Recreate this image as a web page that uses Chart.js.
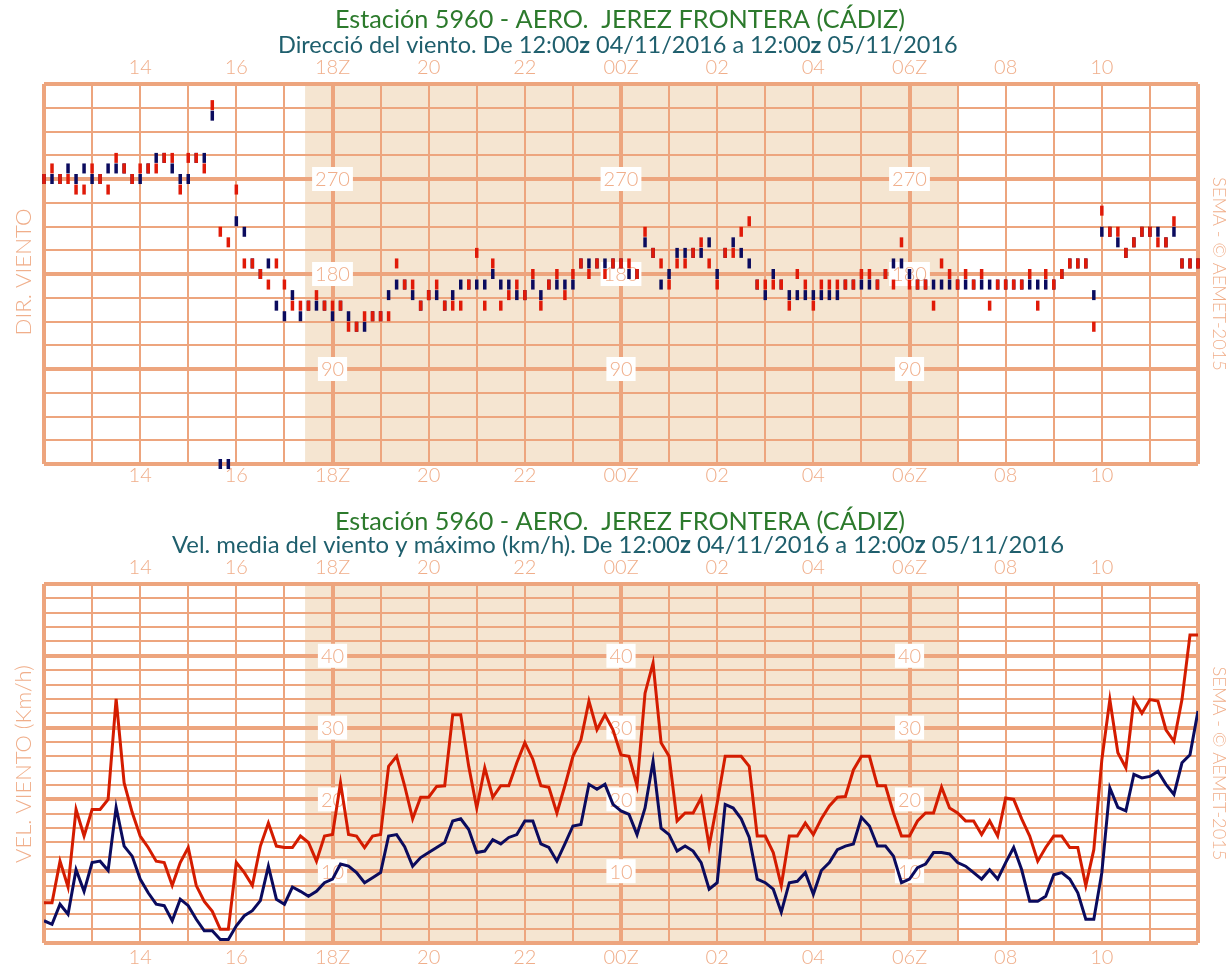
<!DOCTYPE html>
<html>
<head>
<meta charset="utf-8">
<script src="https://cdn.jsdelivr.net/npm/chart.js@4.4.0/dist/chart.umd.min.js"></script>
<style>
html,body{margin:0;padding:0;background:#ffffff;}
#wrap{position:relative;width:1229px;height:964px;overflow:hidden;}
canvas{position:absolute;left:0;}
</style>
</head>
<body>
<div id="wrap">
<canvas id="dirChart" width="1229" height="490" style="top:0px"></canvas>
<canvas id="velChart" width="1229" height="474" style="top:490px"></canvas>
</div>
<script>
// ---------------- DATA ----------------
const stepsPerHour = 6; // one value every 10 minutes, 12:00z -> 12:00z
const xTickLabels = ['', '', '14', '', '16', '', '18Z', '', '20', '', '22', '', '00Z', '', '02', '', '04', '', '06Z', '', '08', '', '10', '', ''];
const nightStart = 5.43;   // hours after 12:00z (sunset)
const nightEnd = 18.99;    // hours after 12:00z (sunrise)
const labelHours = [6, 12, 18];
const dirLabelValues = [90, 180, 270];
const velLabelValues = [10, 20, 30, 40];

const stationTitle = 'Estación 5960 - AERO.  JEREZ FRONTERA (CÁDIZ)';
const dirSubtitle = ['Direcció del viento. De 12:00', 'z', ' 04/11/2016 a 12:00', 'z', ' 05/11/2016'];
const velSubtitle = ['Vel. media del viento y máximo (km/h). De 12:00', 'z', ' 04/11/2016 a 12:00', 'z', ' 05/11/2016'];
const dirAxisTitle = 'DIR. VIENTO';
const velAxisTitle = 'VEL. VIENTO (Km/h)';
const creditText = 'SEMA - © AEMET-2015';

// wind direction of the gust (red) and of the mean wind (navy), degrees
const dirMax = [270,280,270,270,260,260,280,270,260,290,280,270,280,280,280,290,290,260,290,290,
  280,340,220,210,260,190,190,180,170,190,170,150,150,150,160,150,150,150,130,130,
  140,140,140,140,190,170,170,150,160,170,150,150,150,170,200,150,190,150,160,170,
  160,180,150,170,180,160,180,190,180,190,180,190,190,190,180,220,200,190,170,190,
  190,200,210,190,170,200,200,220,230,170,170,170,170,150,180,170,150,170,170,170,
  170,170,180,180,170,180,170,210,170,170,170,150,190,180,170,180,170,180,150,170,
  170,170,170,180,150,180,170,180,190,190,190,130,240,220,220,200,210,220,220,210,
  210,230,190,190,190];
const dirMean = [270,270,270,280,270,280,270,270,280,280,280,270,270,280,290,290,280,270,270,290,
  290,330,0,0,230,220,190,180,190,150,140,160,140,150,150,150,140,150,140,130,
  130,140,140,160,170,170,160,150,160,160,150,160,170,170,170,170,180,170,170,160,
  160,170,160,170,170,170,170,190,190,190,190,190,190,180,180,210,200,170,180,200,
  200,200,200,210,180,200,210,200,190,170,160,180,170,160,160,160,160,160,160,160,
  170,170,170,170,170,180,190,190,180,170,170,170,170,170,170,170,170,170,170,170,
  170,170,170,170,170,170,170,180,190,190,190,160,220,220,210,200,210,220,220,220,
  210,220,190,190,190];

// maximum gust (red) and mean speed (navy), km/h
const velMax = [5.6,5.6,11.4,7.8,18.6,14.9,18.6,18.6,20.0,34.0,22.3,18.2,14.9,13.3,11.4,11.2,8.0,11.2,13.3,8.0,
  5.8,4.4,1.9,1.9,11.2,9.8,8.0,13.5,16.7,13.5,13.3,13.3,14.9,14.0,11.4,14.9,15.1,22.3,15.1,14.9,
  13.3,14.9,15.1,24.6,26.0,21.9,17.3,20.3,20.3,21.8,21.9,31.8,31.8,24.6,18.8,24.4,20.3,21.9,21.9,25.1,
  27.9,25.6,21.9,21.7,18.1,21.9,26.0,28.3,33.7,29.7,31.8,29.7,26.2,26.0,21.9,34.8,39.0,27.9,26.0,17.0,
  18.1,18.1,20.2,13.5,19.5,26.0,26.0,26.0,24.6,14.9,14.9,12.6,8.0,14.9,14.9,16.7,15.1,17.3,19.1,20.3,
  20.4,24.1,26.0,26.0,21.9,21.9,18.1,14.9,14.9,17.0,18.1,18.1,21.7,18.8,18.1,17.0,17.0,15.1,17.0,14.9,
  20.2,20.0,17.3,14.9,11.4,13.3,14.9,14.9,13.3,13.3,8.0,13.0,25.5,33.9,26.5,24.4,33.9,32.0,33.9,33.7,
  29.7,28.1,33.9,42.9,42.9];
const velMean = [3.1,2.6,5.4,4.0,10.2,7.2,11.2,11.4,10.1,18.9,13.5,12.1,8.9,7.0,5.4,5.2,3.1,6.1,5.2,3.3,
  1.7,1.7,0.5,0.5,2.4,3.8,4.5,5.9,10.7,6.1,5.4,7.8,7.2,6.5,7.2,8.4,8.9,11.0,10.7,9.8,
  8.4,9.1,9.8,14.9,15.1,13.4,10.7,11.9,12.6,13.3,14.0,17.0,17.3,15.8,12.6,12.8,14.4,13.8,14.7,15.1,
  17.0,17.0,13.8,13.3,11.4,13.8,16.3,16.5,22.1,21.4,22.1,19.3,18.4,17.9,15.1,18.8,25.3,16.0,15.1,12.8,
  13.5,12.8,11.2,7.5,8.4,19.3,18.8,17.3,14.7,8.9,8.4,7.5,4.3,8.4,8.6,9.8,6.8,10.1,11.2,13.0,
  13.5,13.8,17.5,16.3,13.5,13.5,12.1,8.4,8.9,10.5,11.0,12.6,12.6,12.4,11.2,10.7,9.8,8.9,10.2,8.9,
  11.2,13.3,10.2,5.8,5.8,6.5,9.5,9.8,8.9,7.0,3.3,3.3,9.8,21.6,18.9,18.4,23.5,23.0,23.2,23.9,
  22.1,20.7,25.1,26.2,32.3];

// ---------------- STYLE ----------------
const FONT = 'Lato, "Open Sans", "DejaVu Sans", sans-serif';
const LIGHT = '300 ';
const GRID = '#eda57e';
const LABEL = '#f0ae8a';
const NIGHT = '#f5e5d1';
const RED = '#e01a08';
const NAVY = '#0b0b5e';
const LINE_RED = '#d41c00';
const GREEN = '#2c7a2c';
const TEAL = '#1f5f6d';

const toXY = arr => arr.map((v, i) => ({ x: i / stepsPerHour, y: v }));

function drawSegments(ctx, segs, cx, cy, width, color) {
  const base = 20;
  const f = (b, s) => (b ? 'bold ' : '') + s + 'px ' + FONT;
  let w = 0;
  segs.forEach((t, i) => { ctx.font = f(i % 2 === 1, base); w += ctx.measureText(t).width; });
  const size = base * width / w;
  let x = cx - width / 2;
  ctx.textBaseline = 'middle';
  ctx.textAlign = 'left';
  ctx.fillStyle = color;
  segs.forEach((t, i) => { ctx.font = f(i % 2 === 1, size); ctx.fillText(t, x, cy); x += ctx.measureText(t).width; });
}

function drawRotated(ctx, text, cx, cy, length, angle, color) {
  const base = 20;
  ctx.save();
  ctx.font = LIGHT + base + 'px ' + FONT;
  const size = base * length / ctx.measureText(text).width;
  ctx.font = LIGHT + size + 'px ' + FONT;
  ctx.translate(cx, cy);
  ctx.rotate(angle);
  ctx.textAlign = 'center';
  ctx.textBaseline = 'middle';
  ctx.fillStyle = color;
  ctx.fillText(text, 0, 0);
  ctx.restore();
}

function decorPlugin(cfg) {
  return {
    id: 'decor',
    beforeDraw(chart) {
      const ctx = chart.ctx, a = chart.chartArea, xs = chart.scales.x;
      ctx.save();
      ctx.fillStyle = '#ffffff';
      ctx.fillRect(0, 0, chart.width, chart.height);
      ctx.fillStyle = NIGHT;
      const x0 = xs.getPixelForValue(nightStart), x1 = xs.getPixelForValue(nightEnd);
      ctx.fillRect(x0, a.top, x1 - x0, a.bottom - a.top);
      ctx.restore();
    },
    beforeDatasetsDraw(chart) {
      const ctx = chart.ctx, xs = chart.scales.x, ys = chart.scales.y;
      ctx.save();
      ctx.font = LIGHT + '20px ' + FONT;
      ctx.textAlign = 'center';
      ctx.textBaseline = 'middle';
      cfg.labelValues.forEach(v => {
        labelHours.forEach(h => {
          const px = xs.getPixelForValue(h), py = ys.getPixelForValue(v);
          const tw = ctx.measureText(String(v)).width;
          ctx.fillStyle = '#ffffff';
          ctx.fillRect(px - tw / 2 - 3, py - 12, tw + 6, 24);
          ctx.fillStyle = LABEL;
          ctx.fillText(String(v), px, py + 1);
        });
      });
      ctx.restore();
    },
    afterDraw(chart) {
      const ctx = chart.ctx, a = chart.chartArea;
      ctx.save();
      drawSegments(ctx, [stationTitle], 620, cfg.titleY, 570, GREEN);
      drawSegments(ctx, cfg.subtitle, 618, cfg.subY, cfg.subWidth, TEAL);
      drawRotated(ctx, cfg.axisTitle, 24, cfg.axisTitleY, cfg.axisTitleLen, -Math.PI / 2, LABEL);
      drawRotated(ctx, creditText, 1219, (a.top + a.bottom) / 2, 194, Math.PI / 2, LABEL);
      ctx.restore();
    }
  };
}

function makeOptions(cfg) {
  const tickFont = { family: FONT, size: 20, weight: 300 };
  const labelCb = v => { const k = Math.round(v); return xTickLabels[k] !== undefined ? xTickLabels[k] : ''; };
  return {
    responsive: false,
    animation: false,
    devicePixelRatio: 1,
    layout: { padding: { left: 0, right: 31, top: cfg.padTop, bottom: 0 } },
    plugins: { legend: { display: false }, tooltip: { enabled: false }, title: { display: false } },
    scales: {
      x: {
        type: 'linear', position: 'bottom', min: 0, max: 24,
        ticks: { stepSize: 1, autoSkip: false, maxRotation: 0, minRotation: 0, padding: cfg.bottomPad, color: LABEL, font: tickFont, callback: labelCb },
        grid: { color: GRID, lineWidth: c => (c.tick && c.tick.value % 6 === 0) ? 4 : 2, drawTicks: false },
        border: { display: false },
        afterFit: s => { s.height = cfg.bottomH; }
      },
      x2: {
        type: 'linear', position: 'top', min: 0, max: 24,
        ticks: { stepSize: 1, autoSkip: false, maxRotation: 0, minRotation: 0, padding: 4, color: LABEL, font: tickFont, callback: labelCb },
        grid: { display: false, drawTicks: false },
        border: { display: false },
        afterFit: s => { s.height = 30; }
      },
      y: {
        type: 'linear', position: 'left', min: cfg.yMin, max: cfg.yMax,
        ticks: { display: false, stepSize: cfg.yStep },
        grid: { color: GRID, lineWidth: c => (c.tick && Math.abs(c.tick.value % cfg.yMajor) < 1e-6) ? 4 : 2, drawTicks: false },
        border: { display: false },
        afterFit: s => { s.width = 44; }
      }
    }
  };
}

const markStyle = color => ({
  showLine: false, pointStyle: 'line', rotation: 90, pointRadius: 5, pointHoverRadius: 5,
  pointBorderWidth: 3.5, pointBorderColor: color, pointBackgroundColor: color, borderColor: color, clip: false
});

new Chart(document.getElementById('dirChart'), {
  type: 'scatter',
  data: {
    datasets: [
      Object.assign({ label: 'Dirección racha', data: toXY(dirMax) }, markStyle(RED)),
      Object.assign({ label: 'Dirección media', data: toXY(dirMean) }, markStyle(NAVY))
    ]
  },
  options: makeOptions({ padTop: 54, bottomH: 26, bottomPad: 0, yMin: 0, yMax: 360, yStep: 22.5, yMajor: 90 }),
  plugins: [decorPlugin({ labelValues: dirLabelValues, titleY: 20, subY: 45, subtitle: dirSubtitle, subWidth: 680, axisTitle: dirAxisTitle, axisTitleY: 272, axisTitleLen: 127 })]
});

new Chart(document.getElementById('velChart'), {
  type: 'line',
  data: {
    datasets: [
      { label: 'Racha máxima', data: toXY(velMax), borderColor: LINE_RED, backgroundColor: LINE_RED, borderWidth: 3, pointRadius: 0, tension: 0, fill: false },
      { label: 'Velocidad media', data: toXY(velMean), borderColor: NAVY, backgroundColor: NAVY, borderWidth: 3, pointRadius: 0, tension: 0, fill: false }
    ]
  },
  options: makeOptions({ padTop: 64, bottomH: 21, bottomPad: 2.5, yMin: 0, yMax: 50, yStep: 2, yMajor: 10 }),
  plugins: [decorPlugin({ labelValues: velLabelValues, titleY: 32, subY: 55, subtitle: velSubtitle, subWidth: 892, axisTitle: velAxisTitle, axisTitleY: 274, axisTitleLen: 198 })]
});
</script>
</body>
</html>
